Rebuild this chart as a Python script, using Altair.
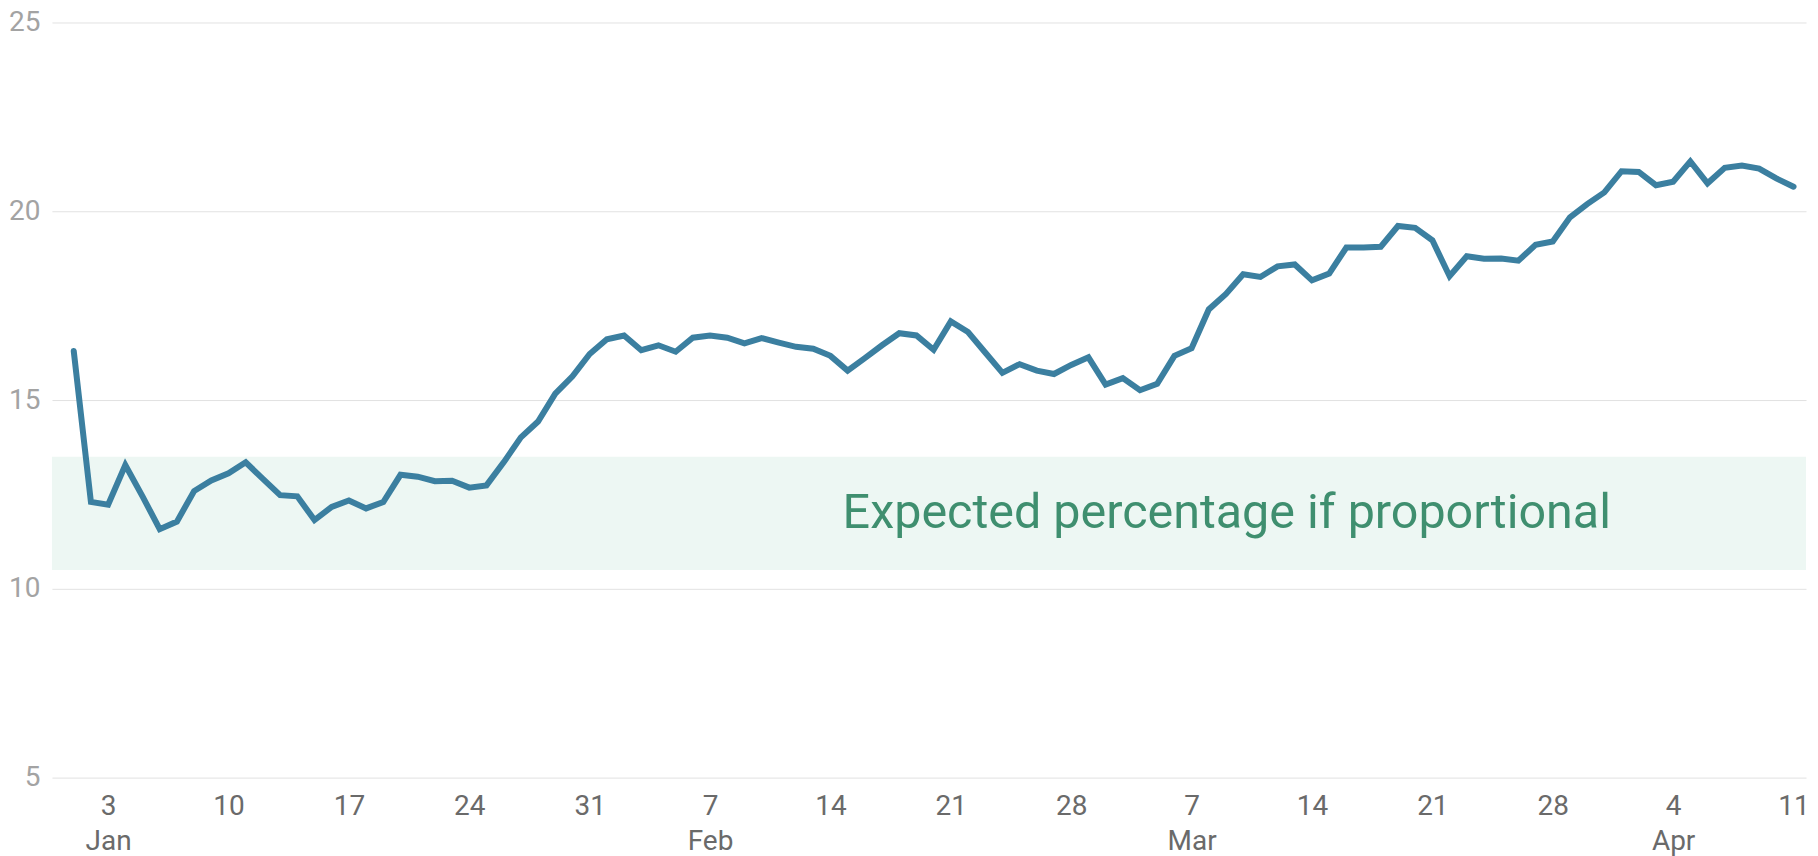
import altair as alt
import pandas as pd

# Daily values (Jan 1 - Apr 11, 2021)
jan = [16.30, 12.30, 12.23, 13.28, 12.45, 11.58, 11.78, 12.59, 12.87, 13.06,
       13.35, 12.91, 12.48, 12.45, 11.82, 12.17, 12.34, 12.13, 12.30, 13.02,
       12.97, 12.85, 12.86, 12.68, 12.74, 13.35, 14.01, 14.43, 15.17, 15.63,
       16.22]
feb = [16.61, 16.71, 16.32, 16.45, 16.28, 16.65, 16.71, 16.65, 16.50, 16.64,
       16.52, 16.41, 16.36, 16.17, 15.78, 16.11, 16.45, 16.77, 16.71, 16.33,
       17.08, 16.80, 16.26, 15.72, 15.95, 15.78, 15.69, 15.93]
mar = [16.13, 15.41, 15.58, 15.26, 15.43, 16.17, 16.37, 17.40, 17.81, 18.33,
       18.26, 18.54, 18.59, 18.17, 18.35, 19.04, 19.04, 19.06, 19.61, 19.56,
       19.23, 18.28, 18.81, 18.74, 18.75, 18.69, 19.11, 19.20, 19.84, 20.19,
       20.50]
apr = [21.06, 21.04, 20.69, 20.78, 21.32, 20.74, 21.15, 21.21, 21.13, 20.87,
       20.65]

values = jan + feb + mar + apr
dates = [d.strftime("%Y-%m-%dT00:00:00") for d in pd.date_range("2021-01-01", "2021-04-11", freq="D")]

tick_dates = ["2021-01-03", "2021-01-10", "2021-01-17", "2021-01-24", "2021-01-31",
              "2021-02-07", "2021-02-14", "2021-02-21", "2021-02-28",
              "2021-03-07", "2021-03-14", "2021-03-21", "2021-03-28",
              "2021-04-04", "2021-04-11"]
y_ticks = [5, 10, 15, 20, 25]

band_low, band_high = 10.5, 13.5
band_label = "Expected percentage if proportional"
band_label_date = "2021-02-14T17:00:00"
band_label_y = 12.0

domain_start = "2020-12-30T17:37:00"
domain_end = "2021-04-11T17:25:00"

def to_dt(s):
    ts = pd.Timestamp(s)
    return alt.DateTime(year=ts.year, month=ts.month, date=ts.day,
                        hours=ts.hour, minutes=ts.minute)

xscale = alt.Scale(domain=[to_dt(domain_start), to_dt(domain_end)])
yscale = alt.Scale(domain=[5, 25])

line_df = pd.DataFrame({"date": dates, "value": values})
band_df = pd.DataFrame({"start": [domain_start], "end": [domain_end],
                        "low": [band_low], "high": [band_high]})
label_df = pd.DataFrame({"date": [band_label_date], "y": [band_label_y], "text": [band_label]})

x_axis = alt.Axis(
    values=[to_dt(t) for t in tick_dates],
    labelExpr="date(datum.value) <= 7 ? [timeFormat(datum.value, '%-d'), timeFormat(datum.value, '%b')] : timeFormat(datum.value, '%-d')",
    title=None, grid=False, domain=False, ticks=False,
    labelFont="Roboto", labelFontSize=28, labelColor="#6a6a6a",
    labelPadding=15, labelLineHeight=35, labelFlush=False, labelOverlap=False,
)
y_axis = alt.Axis(
    values=y_ticks, title=None, domain=False, ticks=False, grid=True,
    gridColor="#e2e2e2", gridWidth=1,
    labelFont="Roboto", labelFontSize=28, labelColor="#a3a3a3", labelPadding=12,
)

band = alt.Chart(band_df).mark_rect(color="#edf7f3").encode(
    x=alt.X("start:T", scale=xscale, axis=x_axis),
    x2="end:T",
    y=alt.Y("low:Q", scale=yscale, axis=y_axis),
    y2="high:Q",
)

line = alt.Chart(line_df).mark_line(color="#3b7fa0", strokeWidth=6, strokeJoin="miter", strokeCap="round").encode(
    x=alt.X("date:T", scale=xscale),
    y=alt.Y("value:Q", scale=yscale),
)

label = alt.Chart(label_df).mark_text(
    font="Roboto", fontSize=48.5, color="#3f8f6f", align="left", baseline="middle"
).encode(
    x=alt.X("date:T", scale=xscale),
    y=alt.Y("y:Q", scale=yscale),
    text="text:N",
)

chart = alt.layer(band, line, label).properties(
    width=1756, height=756, padding=0
).configure_view(stroke=None)

chart.save("out.html", embed_options={"renderer": "svg", "actions": False})
